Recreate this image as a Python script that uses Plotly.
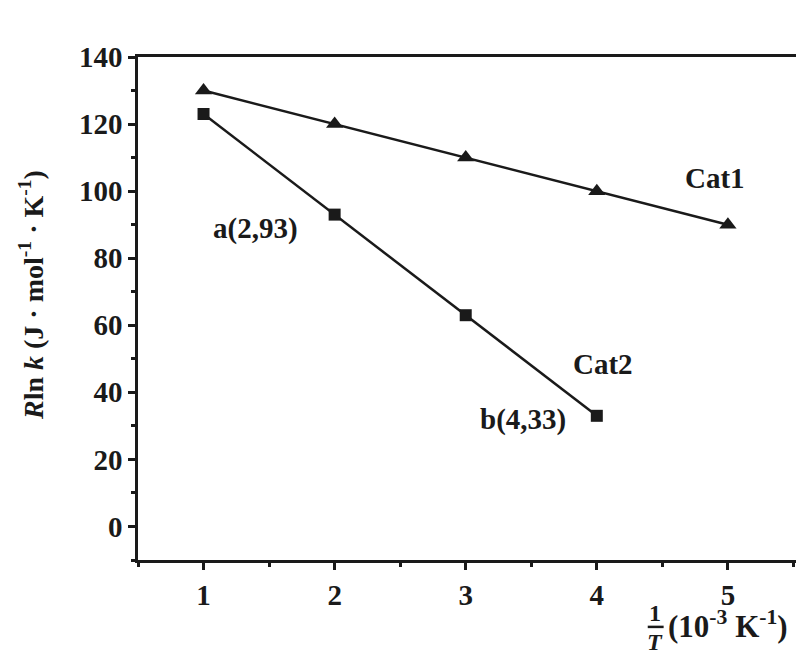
import plotly.graph_objects as go

x_cat1 = [1, 2, 3, 4, 5]
y_cat1 = [130, 120, 110, 100, 90]
x_cat2 = [1, 2, 3, 4]
y_cat2 = [123, 93, 63, 33]

x_ticks = [1, 2, 3, 4, 5]
y_ticks = [0, 20, 40, 60, 80, 100, 120, 140]

FONT = "Liberation Serif"
INK = "#1a1a1a"

fig = go.Figure()
fig.add_trace(go.Scatter(x=x_cat1, y=y_cat1, mode="lines+markers",
                         line=dict(color=INK, width=2.5),
                         marker=dict(symbol="triangle-up", size=15, color=INK),
                         name="Cat1", showlegend=False))
fig.add_trace(go.Scatter(x=x_cat2, y=y_cat2, mode="lines+markers",
                         line=dict(color=INK, width=2.5),
                         marker=dict(symbol="square", size=12, color=INK),
                         name="Cat2", showlegend=False))

ann_font = dict(family=FONT, size=29, color=INK)
fig.add_annotation(x=4.90, y=104, text="<b>Cat1</b>", showarrow=False, font=ann_font)
fig.add_annotation(x=4.05, y=48.5, text="<b>Cat2</b>", showarrow=False, font=ann_font)
fig.add_annotation(x=1.40, y=89, text="<b>a(2,93)</b>", showarrow=False, font=ann_font)
fig.add_annotation(x=3.44, y=32, text="<b>b(4,33)</b>", showarrow=False, font=ann_font)

# y-axis title
fig.add_annotation(xref="paper", yref="paper", x=-0.16, y=0.527, textangle=-90,
                   xanchor="center", yanchor="middle",
                   text="<b><i>R</i>ln <i>k</i> (J · mol<sup>-1</sup> · K<sup>-1</sup>)</b>",
                   showarrow=False, font=dict(family=FONT, size=28, color=INK))

# x-axis title as fraction 1/T (10^-3 K^-1)
fig.add_annotation(xref="paper", yref="paper", x=0.781, y=-0.105,
                   xanchor="center", yanchor="middle",
                   text="<b>1</b>", showarrow=False, font=dict(family=FONT, size=24, color=INK))
fig.add_annotation(xref="paper", yref="paper", x=0.781, y=-0.163,
                   xanchor="center", yanchor="middle",
                   text="<b><i>T</i></b>", showarrow=False, font=dict(family=FONT, size=24, color=INK))
fig.add_shape(type="line", xref="paper", yref="paper",
              x0=0.770, x1=0.794, y0=-0.133, y1=-0.133,
              line=dict(color=INK, width=2.5))
fig.add_annotation(xref="paper", yref="paper", x=0.798, y=-0.129,
                   xanchor="left", yanchor="middle",
                   text="<b>(10<sup>-3</sup> K<sup>-1</sup>)</b>",
                   showarrow=False, font=dict(family=FONT, size=31, color=INK))

fig.update_layout(
    width=796, height=653,
    margin=dict(l=130, r=4, t=49, b=101),
    paper_bgcolor="white", plot_bgcolor="white",
    font=dict(family=FONT, size=28, color=INK),
)
fig.update_xaxes(range=[0.5, 5.55], tickvals=x_ticks, ticktext=[f"<b>{v}</b>" for v in x_ticks],
                 showline=True, linecolor=INK, linewidth=2.5, mirror=True, automargin=False,
                 ticks="outside", ticklen=7, tickwidth=2.5, tickcolor=INK,
                 minor=dict(dtick=0.5, ticks="outside", ticklen=4, tickwidth=2.5, tickcolor=INK),
                 showgrid=False, zeroline=False, tickfont=dict(family=FONT, size=29, color=INK))
fig.update_yaxes(range=[-10, 140], tickvals=y_ticks, ticktext=[f"<b>{v}</b>" for v in y_ticks],
                 showline=True, linecolor=INK, linewidth=2.5, mirror=True, automargin=False,
                 ticks="outside", ticklen=7, tickwidth=2.5, tickcolor=INK,
                 minor=dict(dtick=10, ticks="outside", ticklen=4, tickwidth=2.5, tickcolor=INK),
                 showgrid=False, zeroline=False, tickfont=dict(family=FONT, size=29, color=INK))

fig.write_html("out.html")
